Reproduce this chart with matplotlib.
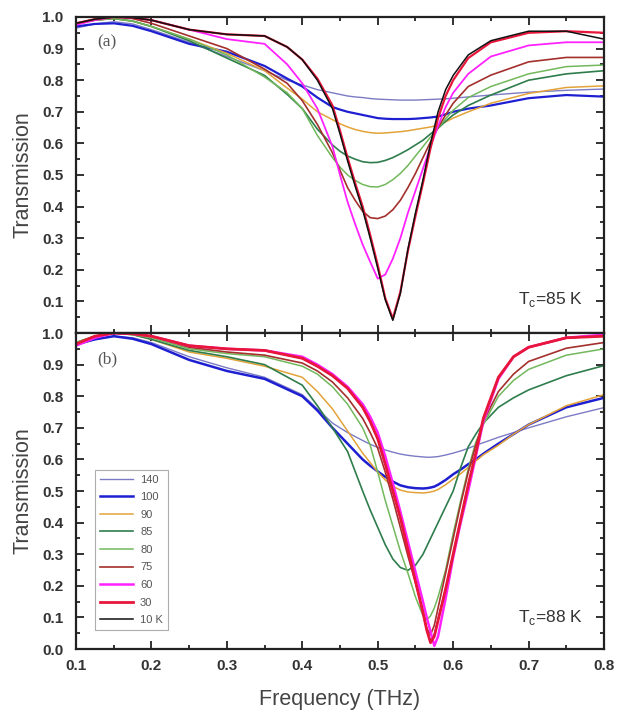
import numpy as np
import matplotlib.pyplot as plt
from matplotlib.ticker import MultipleLocator

plt.rcParams['font.family'] = ['Liberation Sans', 'DejaVu Sans']
plt.rcParams['mathtext.fontset'] = 'custom'
plt.rcParams['mathtext.rm'] = 'Liberation Sans'

labels = ['140', '100', '90', '85', '80', '75', '60', '30', '10 K']
colors = ['#7b7bc4', '#1f1fd2', '#e3a33a', '#2f7d4c', '#72b85c', '#a3302c', '#ff22ff', '#e8163a', '#111111']

# panel (a), Tc = 85 K
xa = [0.10, 0.125, 0.15, 0.175, 0.20, 0.25, 0.30, 0.35, 0.38, 0.40, 0.42,
      0.44, 0.45, 0.46, 0.47, 0.48, 0.49, 0.50, 0.51, 0.52, 0.53, 0.54,
      0.55, 0.56, 0.57, 0.58, 0.59, 0.60, 0.62, 0.65, 0.70, 0.75, 0.80]
a_140 = [0.965, 0.978, 0.985, 0.978, 0.96, 0.92, 0.875, 0.83, 0.80, 0.785, 0.77,
         0.76, 0.755, 0.75, 0.747, 0.745, 0.742, 0.74, 0.739, 0.738, 0.737, 0.737,
         0.737, 0.738, 0.739, 0.74, 0.741, 0.743, 0.747, 0.753, 0.762, 0.768, 0.772]
a_100 = [0.97, 0.978, 0.98, 0.972, 0.955, 0.915, 0.89, 0.845, 0.805, 0.78, 0.745,
         0.715, 0.707, 0.70, 0.695, 0.69, 0.685, 0.68, 0.678, 0.677, 0.677, 0.677,
         0.678, 0.68, 0.682, 0.685, 0.692, 0.70, 0.71, 0.72, 0.743, 0.753, 0.748]
a_90 = [0.98, 0.99, 0.995, 0.987, 0.97, 0.93, 0.885, 0.83, 0.775, 0.74, 0.70,
        0.675, 0.662, 0.652, 0.644, 0.638, 0.634, 0.632, 0.633, 0.635, 0.637, 0.64,
        0.644, 0.648, 0.652, 0.658, 0.668, 0.68, 0.70, 0.727, 0.758, 0.777, 0.782]
a_85 = [0.98, 0.99, 0.995, 0.987, 0.97, 0.925, 0.87, 0.815, 0.755, 0.71, 0.645,
        0.595, 0.575, 0.56, 0.55, 0.542, 0.539, 0.54, 0.546, 0.555, 0.567, 0.58,
        0.595, 0.61, 0.63, 0.648, 0.67, 0.69, 0.72, 0.753, 0.80, 0.82, 0.83]
a_80 = [0.98, 0.99, 0.995, 0.987, 0.97, 0.93, 0.88, 0.81, 0.76, 0.71, 0.625,
        0.555, 0.525, 0.50, 0.483, 0.47, 0.463, 0.462, 0.47, 0.485, 0.505, 0.53,
        0.56, 0.59, 0.62, 0.648, 0.678, 0.705, 0.745, 0.78, 0.82, 0.843, 0.848]
a_75 = [0.98, 0.993, 1.0, 0.995, 0.98, 0.94, 0.90, 0.835, 0.79, 0.735, 0.66,
        0.57, 0.515, 0.46, 0.42, 0.385, 0.365, 0.362, 0.37, 0.39, 0.42, 0.46,
        0.505, 0.555, 0.605, 0.65, 0.69, 0.727, 0.78, 0.816, 0.858, 0.872, 0.872]
a_60 = [0.975, 0.99, 1.0, 0.998, 0.99, 0.96, 0.93, 0.915, 0.85, 0.79, 0.71,
        0.59, 0.50, 0.415, 0.345, 0.28, 0.225, 0.172, 0.185, 0.235, 0.30, 0.38,
        0.45, 0.52, 0.59, 0.655, 0.715, 0.76, 0.82, 0.875, 0.91, 0.92, 0.92]
a_30 = [0.98, 0.993, 1.0, 0.998, 0.99, 0.96, 0.945, 0.94, 0.905, 0.865, 0.805,
        0.72, 0.64, 0.555, 0.475, 0.40, 0.31, 0.215, 0.11, 0.045, 0.13, 0.26,
        0.37, 0.475, 0.585, 0.68, 0.75, 0.80, 0.87, 0.92, 0.95, 0.955, 0.95]
a_10 = [0.98, 0.993, 1.0, 0.998, 0.99, 0.96, 0.945, 0.94, 0.905, 0.865, 0.80,
        0.71, 0.63, 0.545, 0.465, 0.39, 0.30, 0.205, 0.105, 0.04, 0.125, 0.265,
        0.38, 0.485, 0.60, 0.70, 0.77, 0.815, 0.88, 0.925, 0.955, 0.955, 0.93]

# panel (b), Tc = 88 K
xb = [0.10, 0.125, 0.15, 0.175, 0.20, 0.25, 0.30, 0.35, 0.40, 0.42, 0.44, 0.46,
      0.48, 0.49, 0.50, 0.51, 0.52, 0.53, 0.54, 0.55, 0.56, 0.565, 0.57, 0.575,
      0.58, 0.59, 0.60, 0.61, 0.62, 0.63, 0.64, 0.66, 0.68, 0.70, 0.75, 0.80]
b_140 = [0.96, 0.98, 0.99, 0.985, 0.97, 0.925, 0.89, 0.86, 0.805, 0.76, 0.715, 0.685,
         0.66, 0.648, 0.638, 0.63, 0.623, 0.617, 0.613, 0.61, 0.608, 0.607, 0.607, 0.608,
         0.609, 0.614, 0.62, 0.627, 0.635, 0.645, 0.653, 0.67, 0.685, 0.70, 0.735, 0.764]
b_100 = [0.965, 0.98, 0.99, 0.982, 0.965, 0.915, 0.88, 0.855, 0.80, 0.755, 0.70, 0.65,
         0.60, 0.58, 0.562, 0.545, 0.53, 0.518, 0.512, 0.509, 0.508, 0.509, 0.511, 0.514,
         0.52, 0.535, 0.553, 0.568, 0.585, 0.60, 0.618, 0.65, 0.68, 0.71, 0.765, 0.795]
b_90 = [0.97, 0.99, 1.0, 0.995, 0.98, 0.94, 0.92, 0.895, 0.86, 0.815, 0.76, 0.69,
        0.62, 0.59, 0.56, 0.535, 0.515, 0.503, 0.497, 0.495, 0.494, 0.495, 0.497, 0.50,
        0.505, 0.52, 0.538, 0.555, 0.575, 0.595, 0.615, 0.645, 0.68, 0.71, 0.77, 0.805]
b_85 = [0.97, 0.99, 1.0, 0.995, 0.98, 0.945, 0.925, 0.90, 0.835, 0.77, 0.70, 0.625,
        0.50, 0.44, 0.385, 0.33, 0.285, 0.258, 0.249, 0.265, 0.30, 0.325, 0.35, 0.375,
        0.40, 0.45, 0.50, 0.575, 0.64, 0.68, 0.715, 0.765, 0.795, 0.82, 0.865, 0.897]
b_80 = [0.97, 0.99, 1.0, 0.995, 0.985, 0.95, 0.935, 0.925, 0.895, 0.87, 0.83, 0.775,
        0.70, 0.645, 0.56, 0.47, 0.39, 0.31, 0.24, 0.165, 0.105, 0.093, 0.105, 0.13,
        0.165, 0.25, 0.365, 0.47, 0.57, 0.655, 0.71, 0.80, 0.85, 0.885, 0.93, 0.95]
b_75 = [0.965, 0.99, 1.0, 0.997, 0.99, 0.955, 0.94, 0.93, 0.905, 0.88, 0.845, 0.795,
        0.73, 0.685, 0.635, 0.56, 0.475, 0.385, 0.295, 0.21, 0.12, 0.065, 0.045, 0.075,
        0.13, 0.24, 0.35, 0.46, 0.56, 0.645, 0.72, 0.815, 0.87, 0.91, 0.952, 0.97]
b_60 = [0.96, 0.985, 1.0, 0.998, 0.99, 0.96, 0.95, 0.945, 0.925, 0.90, 0.87, 0.83,
        0.775, 0.735, 0.685, 0.61, 0.525, 0.435, 0.34, 0.245, 0.15, 0.10, 0.055, 0.01,
        0.04, 0.16, 0.29, 0.40, 0.50, 0.61, 0.72, 0.855, 0.925, 0.955, 0.985, 0.995]
b_30 = [0.965, 0.99, 1.0, 0.998, 0.99, 0.96, 0.95, 0.945, 0.92, 0.895, 0.865, 0.825,
        0.765, 0.72, 0.665, 0.585, 0.50, 0.415, 0.315, 0.215, 0.115, 0.06, 0.02, 0.04,
        0.09, 0.19, 0.30, 0.41, 0.52, 0.62, 0.73, 0.86, 0.925, 0.955, 0.985, 0.99]
b_10 = [0.965, 0.99, 1.0, 0.998, 0.99, 0.96, 0.95, 0.945, 0.92, 0.895, 0.865, 0.825,
        0.765, 0.72, 0.665, 0.585, 0.50, 0.415, 0.315, 0.215, 0.115, 0.06, 0.025, 0.045,
        0.095, 0.19, 0.30, 0.41, 0.52, 0.62, 0.73, 0.86, 0.925, 0.955, 0.985, 0.99]

series_a = [a_140, a_100, a_90, a_85, a_80, a_75, a_60, a_30, a_10]
series_b = [b_140, b_100, b_90, b_85, b_80, b_75, b_60, b_30, b_10]
widths_a = [1.0, 1.6, 1.1, 1.2, 1.1, 1.2, 1.3, 1.6, 1.1]
widths_b = [1.0, 1.8, 1.1, 1.2, 1.1, 1.2, 1.8, 2.0, 1.1]

fig = plt.figure(figsize=(6.19, 7.17), dpi=100)
ax1 = fig.add_axes([0.1228, 0.5356, 0.853, 0.4407])
ax2 = fig.add_axes([0.1228, 0.0948, 0.853, 0.4407])

for i in range(len(labels)):
    ax1.plot(xa, series_a[i], color=colors[i], lw=widths_a[i], label=labels[i])
    # 10 K sits under the 30 K curve in panel (b)
    z = 1 if labels[i] == '10 K' else 2
    ax2.plot(xb, series_b[i], color=colors[i], lw=widths_b[i], label=labels[i], zorder=z)

for ax in (ax1, ax2):
    ax.set_xlim(0.1, 0.8)
    ax.set_ylim(0.0, 1.0)
    ax.xaxis.set_major_locator(MultipleLocator(0.1))
    ax.xaxis.set_minor_locator(MultipleLocator(0.05))
    ax.yaxis.set_major_locator(MultipleLocator(0.1))
    ax.yaxis.set_minor_locator(MultipleLocator(0.05))
    ax.tick_params(which='both', direction='in', top=True, right=True, width=1.3, colors='#222222')
    ax.tick_params(which='major', length=6)
    ax.tick_params(which='minor', length=3)
    ax.tick_params(axis='y', pad=9)
    ax.tick_params(axis='x', pad=7)
    for sp in ax.spines.values():
        sp.set_linewidth(1.6)
        sp.set_color('#222222')
    ax.set_ylabel('Transmission', fontsize=15.5, color='#444444', labelpad=6)

tick_kw = dict(fontweight='bold', fontsize=11, color='#333333')
ax1.set_xticklabels([])
ya_ticks = np.arange(0.1, 1.01, 0.1)
ax1.set_yticks(ya_ticks)
ax1.set_yticklabels(['%.1f' % v for v in ya_ticks], **tick_kw)
yb_ticks = np.arange(0.0, 1.01, 0.1)
ax2.set_yticks(yb_ticks)
ax2.set_yticklabels(['%.1f' % v for v in yb_ticks], **tick_kw)
x_ticks = np.arange(0.1, 0.81, 0.1)
ax2.set_xticks(x_ticks)
ax2.set_xticklabels(['%.1f' % v for v in x_ticks], **tick_kw)
ax2.set_xlabel('Frequency (THz)', fontsize=15.5, color='#444444', labelpad=12)

ax1.text(0.04, 0.92, '(a)', transform=ax1.transAxes, family='Liberation Serif', fontsize=12.5, color='#555555', va='center')
ax2.text(0.04, 0.917, '(b)', transform=ax2.transAxes, family='Liberation Serif', fontsize=12.5, color='#555555', va='center')
ax1.text(0.96, 0.105, r'T$_\mathregular{c}$=85 K', transform=ax1.transAxes, fontsize=12.5, color='#333333', ha='right', va='center')
ax2.text(0.96, 0.10, r'T$_\mathregular{c}$=88 K', transform=ax2.transAxes, fontsize=12.5, color='#333333', ha='right', va='center')

leg = ax2.legend(loc='lower left', bbox_to_anchor=(0.036, 0.06), borderaxespad=0, fontsize=8.0,
                 handlelength=3.0, labelspacing=0.68, frameon=True, fancybox=False,
                 borderpad=0.45, handletextpad=0.6)
leg.get_frame().set_edgecolor('#999999')
leg.get_frame().set_linewidth(0.8)
for t in leg.get_texts():
    t.set_color('#555555')

fig.savefig('out.png', dpi=100)
